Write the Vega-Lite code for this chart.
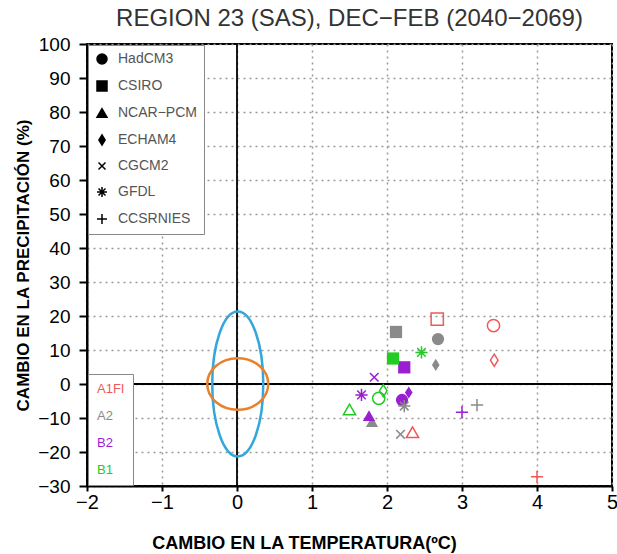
{
  "$schema": "https://vega.github.io/schema/vega-lite/v6.json",
  "width": 525,
  "height": 442,
  "autosize": "none",
  "padding": {"left": 87, "top": 44, "right": 5, "bottom": 68},
  "title": {"text": "REGION 23 (SAS), DEC−FEB (2040−2069)", "font": "Liberation Sans", "fontSize": 24, "fontWeight": "normal", "color": "#333333", "offset": 4, "anchor": "middle"},
  "datasets": {
    "runs": [
      {"model": "HadCM3", "scenario": "A1FI", "temp": 3.42, "precip": 17.2},
      {"model": "HadCM3", "scenario": "A2", "temp": 2.68, "precip": 13.2},
      {"model": "HadCM3", "scenario": "B2", "temp": 2.20, "precip": -4.7},
      {"model": "HadCM3", "scenario": "B1", "temp": 1.89, "precip": -4.2},
      {"model": "CSIRO", "scenario": "A1FI", "temp": 2.67, "precip": 19.1},
      {"model": "CSIRO", "scenario": "A2", "temp": 2.12, "precip": 15.3},
      {"model": "CSIRO", "scenario": "B2", "temp": 2.23, "precip": 4.9},
      {"model": "CSIRO", "scenario": "B1", "temp": 2.08, "precip": 7.5},
      {"model": "NCAR−PCM", "scenario": "A1FI", "temp": 2.34, "precip": -14.2},
      {"model": "NCAR−PCM", "scenario": "A2", "temp": 1.80, "precip": -11.1},
      {"model": "NCAR−PCM", "scenario": "B2", "temp": 1.76, "precip": -9.3},
      {"model": "NCAR−PCM", "scenario": "B1", "temp": 1.50, "precip": -7.5},
      {"model": "ECHAM4", "scenario": "A1FI", "temp": 3.43, "precip": 7.0},
      {"model": "ECHAM4", "scenario": "A2", "temp": 2.65, "precip": 5.6},
      {"model": "ECHAM4", "scenario": "B2", "temp": 2.29, "precip": -2.5},
      {"model": "ECHAM4", "scenario": "B1", "temp": 1.95, "precip": -2.0},
      {"model": "CGCM2", "scenario": "A2", "temp": 2.18, "precip": -14.8},
      {"model": "CGCM2", "scenario": "B2", "temp": 1.83, "precip": 2.0},
      {"model": "GFDL", "scenario": "A2", "temp": 2.23, "precip": -6.5},
      {"model": "GFDL", "scenario": "B2", "temp": 1.66, "precip": -3.2},
      {"model": "GFDL", "scenario": "B1", "temp": 2.46, "precip": 9.3},
      {"model": "CCSRNIES", "scenario": "A1FI", "temp": 4.00, "precip": -27.3},
      {"model": "CCSRNIES", "scenario": "A2", "temp": 3.20, "precip": -6.2},
      {"model": "CCSRNIES", "scenario": "B2", "temp": 3.00, "precip": -8.3}
    ],
    "ellipses": [{"temp": 0.01, "precip": 0}],
    "zeroX": [{"temp": 0}],
    "zeroY": [{"precip": 0}]
  },
  "layer": [
    {
      "data": {"name": "zeroX"},
      "mark": {"type": "rule", "color": "black", "strokeWidth": 1.8},
      "encoding": {
        "x": {"field": "temp", "type": "quantitative", "scale": {"domain": [-2, 5], "nice": false}, "axis": {"tickCount": 8, "format": "d", "labelOverlap": false, "labelFlush": false}, "title": "CAMBIO EN LA TEMPERATURA(ºC)"}
      }
    },
    {
      "data": {"name": "zeroY"},
      "mark": {"type": "rule", "color": "black", "strokeWidth": 1.8},
      "encoding": {
        "y": {"field": "precip", "type": "quantitative", "scale": {"domain": [-30, 100], "nice": false}, "axis": {"tickCount": 13, "format": "d", "labelOverlap": false, "labelFlush": false}, "title": "CAMBIO EN LA PRECIPITACIÓN (%)"}
      }
    },
    {
      "data": {"name": "ellipses"},
      "mark": {"type": "point", "shape": "M0.352,0C0.352,0.5523 0.1944,1 0,1C-0.1944,1 -0.352,0.5523 -0.352,0C-0.352,-0.5523 -0.1944,-1 0,-1C0.1944,-1 0.352,-0.5523 0.352,0Z", "size": 21025, "filled": false, "stroke": "#33a6dc", "strokeWidth": 2.5, "opacity": 1},
      "encoding": {
        "x": {"field": "temp", "type": "quantitative", "title": "CAMBIO EN LA TEMPERATURA(ºC)"},
        "y": {"field": "precip", "type": "quantitative", "title": "CAMBIO EN LA PRECIPITACIÓN (%)"}
      }
    },
    {
      "data": {"name": "ellipses"},
      "mark": {"type": "point", "shape": "M1,0C1,0.4672 0.5523,0.846 0,0.846C-0.5523,0.846 -1,0.4672 -1,0C-1,-0.4672 -0.5523,-0.846 0,-0.846C0.5523,-0.846 1,-0.4672 1,0Z", "size": 3721, "filled": false, "stroke": "#e8802c", "strokeWidth": 2.5, "opacity": 1},
      "encoding": {
        "x": {"field": "temp", "type": "quantitative", "title": "CAMBIO EN LA TEMPERATURA(ºC)"},
        "y": {"field": "precip", "type": "quantitative", "title": "CAMBIO EN LA PRECIPITACIÓN (%)"}
      }
    },
    {
      "data": {"name": "runs"},
      "transform": [{"filter": "(datum.scenario == 'A2' || datum.scenario == 'B2' || (datum.model == 'CSIRO' && datum.scenario == 'B1')) && indexof(['HadCM3', 'CSIRO', 'NCAR−PCM', 'ECHAM4'], datum.model) >= 0"}],
      "mark": {"type": "point", "filled": true, "opacity": 1, "size": 150},
      "encoding": {
        "x": {"field": "temp", "type": "quantitative", "scale": {"domain": [-2, 5], "nice": false}, "axis": {"tickCount": 8, "format": "d", "labelOverlap": false, "labelFlush": false}, "title": "CAMBIO EN LA TEMPERATURA(ºC)"},
        "y": {"field": "precip", "type": "quantitative", "scale": {"domain": [-30, 100], "nice": false}, "axis": {"tickCount": 13, "format": "d", "labelOverlap": false, "labelFlush": false}, "title": "CAMBIO EN LA PRECIPITACIÓN (%)"},
        "shape": {
          "field": "model", "type": "nominal",
          "scale": {
            "domain": ["HadCM3", "CSIRO", "NCAR−PCM", "ECHAM4", "CGCM2", "GFDL", "CCSRNIES"],
            "range": ["circle", "square", "triangle-up", "M0,-1L0.62,0L0,1L-0.62,0Z", "M-0.7,-0.7L0.7,0.7M-0.7,0.7L0.7,-0.7", "M-1,0L1,0M0,-1L0,1M-0.7,-0.7L0.7,0.7M-0.7,0.7L0.7,-0.7", "M-1,0L1,0M0,-1L0,1"]
          },
          "legend": {"orient": "top-left", "title": null, "offset": 1, "padding": 7, "rowPadding": 11, "labelFontSize": 14, "labelColor": "#555555", "labelFont": "Liberation Sans", "symbolSize": 100, "labelOffset": 9, "symbolFillColor": "black", "symbolStrokeColor": "black", "symbolStrokeWidth": 1.5, "strokeColor": "#888888", "fillColor": "white", "encode": {"symbols": {"update": {"size": {"value": 100}, "fill": {"value": "black"}, "stroke": {"value": "black"}}}}}
        },
        "color": {
          "field": "scenario", "type": "nominal",
          "scale": {"domain": ["A1FI", "A2", "B2", "B1"], "range": ["#ee5a5a", "#8a8a8a", "#9a1fd0", "#22cc22"]},
          "legend": {"orient": "bottom-left", "title": null, "offset": 1, "padding": 8, "rowPadding": 13, "symbolSize": 1, "symbolOpacity": 0, "labelOffset": -12, "labelFontSize": 13, "labelFont": "Liberation Sans", "strokeColor": "#888888", "fillColor": "white", "encode": {"symbols": {"update": {"size": {"value": 1}, "opacity": {"value": 0}}}, "labels": {"update": {"fill": {"scale": "color", "field": "value"}}}}}
        }
      }
    },
    {
      "data": {"name": "runs"},
      "transform": [{"filter": "!((datum.scenario == 'A2' || datum.scenario == 'B2' || (datum.model == 'CSIRO' && datum.scenario == 'B1')) && indexof(['HadCM3', 'CSIRO', 'NCAR−PCM', 'ECHAM4'], datum.model) >= 0)"}],
      "mark": {"type": "point", "filled": false, "opacity": 1, "size": 150, "strokeWidth": 1.5},
      "encoding": {
        "x": {"field": "temp", "type": "quantitative", "title": "CAMBIO EN LA TEMPERATURA(ºC)"},
        "y": {"field": "precip", "type": "quantitative", "title": "CAMBIO EN LA PRECIPITACIÓN (%)"},
        "shape": {"field": "model", "type": "nominal"},
        "color": {"field": "scenario", "type": "nominal"}
      }
    }
  ],
  "config": {
    "view": {"stroke": "black", "strokeWidth": 2},
    "font": "Liberation Sans",
    "axis": {"domainColor": "black", "domainWidth": 2, "tickColor": "black", "tickWidth": 2, "labelColor": "black", "labelFont": "Liberation Sans", "titleFont": "Liberation Sans", "titleFontWeight": "bold", "titleColor": "black", "grid": true, "gridColor": "#999999", "gridDash": [2, 4], "gridWidth": 1.5, "labelOverlap": false, "labelFlush": false},
    "axisX": {"labelFontSize": 20, "tickSize": 5, "labelPadding": 1, "titleFontSize": 18, "titleX": 217, "titleY": 62, "titleAlign": "center", "titleBaseline": "alphabetic"},
    "axisY": {"labelFontSize": 19, "tickSize": 8, "labelPadding": 9, "titleFontSize": 17, "titleX": -64, "titleY": 221, "titleAlign": "center", "titleBaseline": "middle", "titleAngle": -90}
  }
}
